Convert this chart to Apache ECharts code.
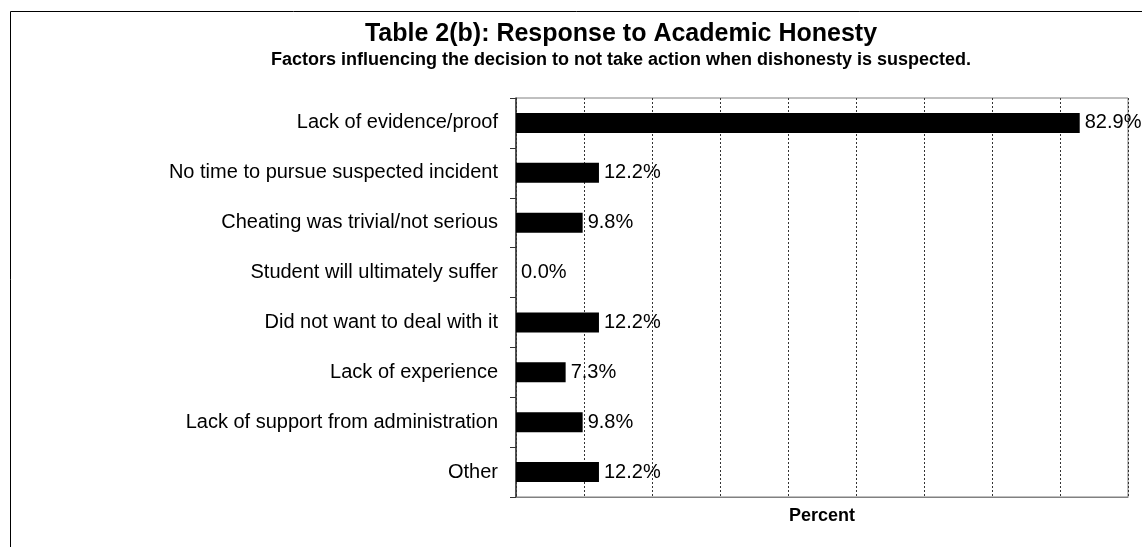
<!DOCTYPE html>
<html>
<head>
<meta charset="utf-8">
<script src="https://cdn.jsdelivr.net/npm/echarts@6/dist/echarts.min.js"></script>
<style>
html,body{margin:0;padding:0;background:#fff;}
#chart{width:1142px;height:547px;}
</style>
</head>
<body>
<div id="chart"></div>
<script>
const titleText = 'Table 2(b): Response to Academic Honesty';
const subtitleText = 'Factors influencing the decision to not take action when dishonesty is suspected.';
const categories = [
  'Lack of evidence/proof',
  'No time to pursue suspected incident',
  'Cheating was trivial/not serious',
  'Student will ultimately suffer',
  'Did not want to deal with it',
  'Lack of experience',
  'Lack of support from administration',
  'Other'
];
const percentValues = [82.9, 12.2, 9.8, 0.0, 12.2, 7.3, 9.8, 12.2];
const axisName = 'Percent';

const FONT = '"Liberation Sans", Arial, sans-serif';
const chart = echarts.init(document.getElementById('chart'));
chart.setOption({
  animation: false,
  backgroundColor: '#fff',
  graphic: [
    { type: 'rect', shape: { x: 10.5, y: 11.5, width: 1300, height: 700 },
      style: { fill: 'none', stroke: '#000', lineWidth: 1 }, silent: true },
    { type: 'text', x: 621, y: 34,
      style: { text: titleText, textAlign: 'center', textVerticalAlign: 'middle',
               font: 'bold 25px ' + FONT, fill: '#000' } },
    { type: 'text', x: 621, y: 60,
      style: { text: subtitleText, textAlign: 'center', textVerticalAlign: 'middle',
               font: 'bold 18px ' + FONT, fill: '#000' } }
  ],
  grid: { left: 516, top: 98, width: 612, bottom: 50, show: true, borderColor: '#808080', borderWidth: 1, containLabel: false },
  xAxis: {
    type: 'value', min: 0, max: 90, interval: 10,
    name: axisName, nameLocation: 'middle', nameGap: 10,
    nameTextStyle: { fontFamily: FONT, fontWeight: 'bold', fontSize: 18, color: '#000', verticalAlign: 'top' },
    axisLine: { show: true, lineStyle: { color: '#808080', width: 1 } },
    axisTick: { show: false },
    axisLabel: { show: false },
    splitLine: { show: true, lineStyle: { color: '#333', type: [2, 2], width: 1 } }
  },
  yAxis: {
    type: 'category', data: categories, inverse: true,
    axisLine: { show: true, lineStyle: { color: '#333', width: 1.5 } },
    axisTick: { show: true, inside: false, length: 6, alignWithLabel: false, lineStyle: { color: '#333' } },
    axisLabel: { fontFamily: FONT, fontSize: 20, color: '#000', margin: 18 },
    splitLine: { show: false }
  },
  series: [{
    type: 'bar', data: percentValues, barWidth: 20,
    itemStyle: { color: '#000' },
    label: { show: true, position: 'right', distance: 5,
             formatter: p => p.value.toFixed(1) + '%',
             fontFamily: FONT, fontSize: 20, color: '#000' }
  }]
});
</script>
</body>
</html>
